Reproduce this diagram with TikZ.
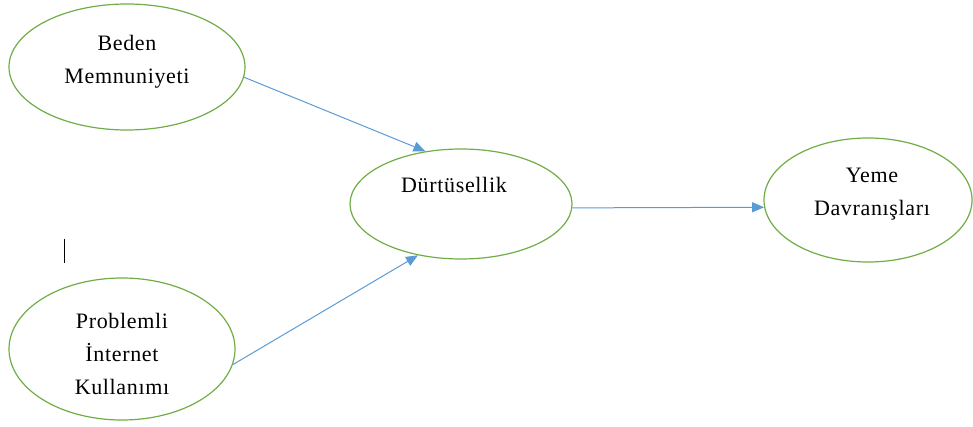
\documentclass[tikz,border=0pt]{standalone}
\usepackage{fontspec}
\setmainfont{Liberation Serif}[LetterSpace=3]
\usetikzlibrary{shapes.geometric,arrows.meta}

\definecolor{ellgreen}{RGB}{112,173,71}
\definecolor{okblue}{RGB}{91,155,213}

\tikzset{
	konstrukt/.style={ellipse, draw=ellgreen, line width=1.2pt, inner sep=0pt},
	etiket/.style={align=center, font=\fontsize{22}{33}\selectfont},
	yol/.style={draw=okblue, line width=1pt, -{Triangle[length=12pt,width=10pt]}}
}

\begin{document}
\begin{tikzpicture}[x=1pt,y=-1pt]
			\useasboundingbox (0,0) rectangle (973,427);

			% ellipses
			\node[konstrukt, minimum width=236pt, minimum height=126pt] (beden) at (127,67) {};
			\node[konstrukt, minimum width=222pt, minimum height=110pt] (durtu) at (461,204) {};
			\node[konstrukt, minimum width=208pt, minimum height=124pt] (yeme) at (868,200) {};
			\node[konstrukt, minimum width=226pt, minimum height=142pt] (prob) at (122,349) {};

			\node[etiket] (bedenT) at ([yshift=5.5pt]beden.center) {Beden\\Memnuniyeti};
			\node[etiket] (durtuT) at ([xshift=-7pt,yshift=19pt]durtu.center) {Dürtüsellik};
			\node[etiket] (yemeT) at ([xshift=4pt,yshift=6pt]yeme.center) {Yeme\\Davranışları};
			\node[etiket] (probT) at ([yshift=-5pt]prob.center) {Problemli\\İnternet\\Kullanımı};

			\draw[yol] (beden.-5) -- (durtu.124);
			\draw[yol] (prob.-8) -- (durtu.230);
			\draw[yol] (durtu.-2) -- (yeme.184);

			\draw[line width=1pt] (64,239) -- (64,263);
		\end{tikzpicture}
\end{document}
